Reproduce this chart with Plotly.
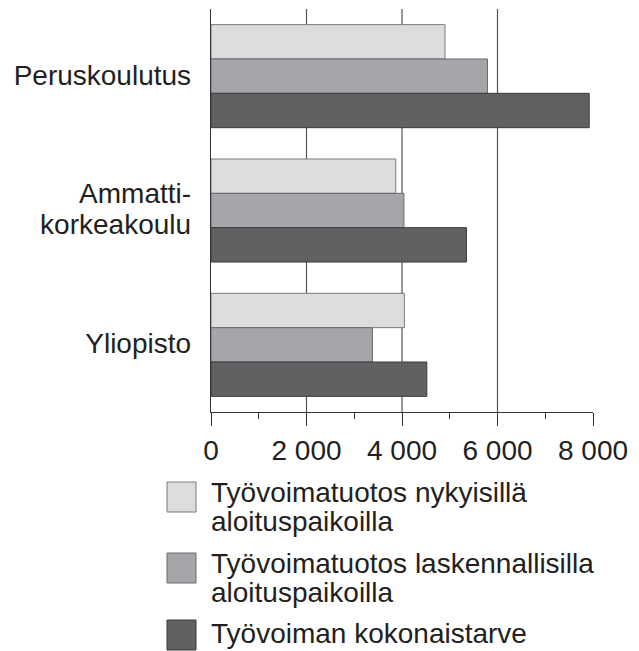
import plotly.graph_objects as go

# ---- data ----
categories = ["Peruskoulutus", "Ammattikorkeakoulu", "Yliopisto"]
tick_labels = ["Peruskoulutus", "Ammatti-<br>korkeakoulu", "Yliopisto"]
series_names = [
    "Työvoimatuotos nykyisillä aloituspaikoilla",
    "Työvoimatuotos laskennallisilla aloituspaikoilla",
    "Työvoiman kokonaistarve",
]
legend_lines = [
    ["Työvoimatuotos nykyisillä", "aloituspaikoilla"],
    ["Työvoimatuotos laskennallisilla", "aloituspaikoilla"],
    ["Työvoiman kokonaistarve"],
]
nykyiset = [4900, 3870, 4050]
laskennalliset = [5790, 4040, 3380]
kokonaistarve = [7920, 5350, 4520]
series_values = [nykyiset, laskennalliset, kokonaistarve]
grid_values = [2000, 4000, 6000]

# ---- style ----
fills = ["#dcdddf", "#a5a6a9", "#616163"]
edges = ["#7a7a7c", "#6a6a6c", "#3a3a3c"]
FONT = "Liberation Sans, Arial, sans-serif"
TXT = "#231f20"

# the page body has an 8px default margin; compensate so the chart sits at the window origin
OFF = 8
W, H = 639 - OFF, 651 - OFF
L, R, T, B = 211, 593, 9, 412   # plot-area edges in window pixels


def px_x(px):
    return (px - L) / (R - L)


def px_y(py):
    return (B - py) / (B - T)


def big(s, size=28):
    return "<br>".join(f'<span style="font-size:{size}px">{part}</span>' for part in s.split("<br>"))


fig = go.Figure()
for name, vals, fc, ec in zip(series_names, series_values, fills, edges):
    fig.add_trace(go.Bar(
        y=categories, x=vals, orientation="h", name=name,
        marker=dict(color=fc, line=dict(color=ec, width=1)),
        showlegend=False,
    ))

shapes = []
for g in grid_values:
    shapes.append(dict(type="line", xref="x", yref="paper", x0=g, x1=g, y0=0, y1=1,
                       line=dict(color="#555555", width=1.2), layer="below"))

# manual legend
box_tops = [482, 553, 620]
text_tops = [476, 547, 617]
annotations = []
for top, ttop, fc, ec, lines in zip(box_tops, text_tops, fills, edges, legend_lines):
    shapes.append(dict(type="rect", xref="paper", yref="paper",
                       x0=px_x(167), x1=px_x(196), y0=px_y(top + 30), y1=px_y(top),
                       fillcolor=fc, line=dict(color=ec, width=1)))
    annotations.append(dict(xref="paper", yref="paper", x=px_x(210), y=px_y(ttop),
                            xanchor="left", yanchor="top", align="left", showarrow=False,
                            text=big("<br>".join(lines)), borderpad=0,
                            font=dict(family=FONT, size=22, color=TXT)))

fig.update_layout(
    width=W, height=H,
    margin=dict(l=L - OFF, r=639 - R, t=T - OFF, b=651 - B, pad=0),
    paper_bgcolor="white", plot_bgcolor="white",
    barmode="group", bargap=0.233, bargroupgap=0,
    separators=". ",
    font=dict(family=FONT, size=28, color=TXT),
    shapes=shapes, annotations=annotations,
    xaxis=dict(
        range=[0, 8000], tick0=0, dtick=2000, tickformat=",d",
        showgrid=False, zeroline=False, automargin=False,
        showline=True, linecolor="#333333", linewidth=1.2,
        ticks="outside", ticklen=13, tickwidth=1.2, tickcolor="#333333",
        minor=dict(dtick=1000, tick0=0, ticks="outside", ticklen=6,
                   tickwidth=1.2, tickcolor="#333333", showgrid=False),
        tickfont=dict(family=FONT, size=28, color=TXT),
        fixedrange=True,
    ),
    yaxis=dict(
        categoryorder="array", categoryarray=categories,
        tickvals=categories, ticktext=[big(t) for t in tick_labels],
        autorange="reversed", automargin=False,
        showgrid=False, zeroline=False,
        showline=True, linecolor="#333333", linewidth=1.2,
        ticks="", ticklabelstandoff=14,
        tickfont=dict(family=FONT, size=24, color=TXT),
        fixedrange=True,
    ),
)

fig.write_html("out.html")
